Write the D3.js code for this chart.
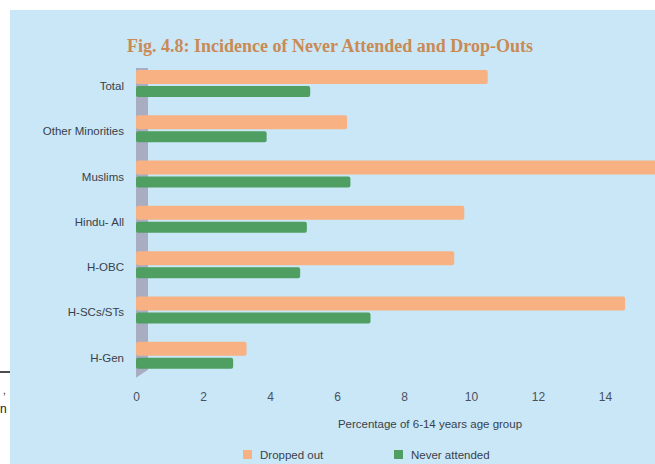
<!DOCTYPE html>
<html><head><meta charset="utf-8">
<script src="https://cdn.jsdelivr.net/npm/d3@7"></script>
<style>html,body{margin:0;padding:0;background:#fff;}svg{display:block;}</style>
</head><body>
<svg id="c" width="655" height="464"></svg>
<script>
const categories = ["Total","Other Minorities","Muslims","Hindu- All","H-OBC","H-SCs/STs","H-Gen"];
const droppedOut = [10.5, 6.3, 15.7, 9.8, 9.5, 14.6, 3.3];
const neverAttended = [5.2, 3.9, 6.4, 5.1, 4.9, 7.0, 2.9];
const xTicks = [0,2,4,6,8,10,12,14];
const seriesNames = ["Dropped out","Never attended"];
const titleText = "Fig. 4.8: Incidence of Never Attended and Drop-Outs";
const axisTitle = "Percentage of 6-14 years age group";

const svg = d3.select("#c");
const orange = "#f8b183", green = "#4f9f62", bg = "#c9e7f7";

// page fragments outside the panel
svg.append("line").attr("x1",0).attr("x2",10).attr("y1",372).attr("y2",372).attr("stroke","#111").attr("stroke-width",1.5);
svg.append("text").attr("x",3).attr("y",394).attr("font-family","Liberation Sans, sans-serif").attr("font-size",10).attr("fill","#222").text(",");
svg.append("text").attr("x",0).attr("y",413).attr("font-family","Liberation Sans, sans-serif").attr("font-size",12).attr("fill","#222").text("n");

// panel
svg.append("rect").attr("x",10).attr("y",10).attr("width",645).attr("height",454).attr("fill",bg);

const x = d3.scaleLinear().domain([0,14]).range([136,605]);
const y = d3.scaleBand().domain(categories).range([68,385]).padding(0);

// title
svg.append("text").attr("x",330).attr("y",52).attr("text-anchor","middle")
  .attr("font-family","Liberation Serif, serif").attr("font-size",18).attr("font-weight","bold").attr("fill","#c98a55")
  .text(titleText);

// gray base wall
svg.append("path")
  .attr("d",`M${x(0)},${y(categories[0])} L${x(0)+12},${y(categories[0])} L${x(0)+12},${y("H-Gen")+30} L${x(0)},${y("H-Gen")+38} Z`)
  .attr("fill","#a9adc2");

const g = svg.append("g");
g.selectAll("rect.d").data(categories).join("rect").attr("class","d")
  .attr("x",x(0)).attr("y",d=>y(d)+2).attr("height",14).attr("rx",2)
  .attr("width",(d,i)=>x(droppedOut[i])-x(0)).attr("fill",orange);
g.selectAll("rect.n").data(categories).join("rect").attr("class","n")
  .attr("x",x(0)).attr("y",d=>y(d)+18).attr("height",11).attr("rx",2)
  .attr("width",(d,i)=>x(neverAttended[i])-x(0)).attr("fill",green);

// category labels
svg.append("g").selectAll("text").data(categories).join("text")
  .attr("x",124).attr("y",d=>y(d)+22).attr("text-anchor","end")
  .attr("font-family","Liberation Sans Narrow, Liberation Sans, sans-serif").attr("font-size",11.5).attr("fill","#3a3f4a")
  .text(d=>d);

// x axis
const xa = svg.append("g").attr("transform","translate(0,397)")
  .call(d3.axisBottom(x).tickValues(xTicks).tickSize(0).tickPadding(0).tickFormat(d3.format("d")));
xa.select(".domain").remove();
xa.selectAll("text").attr("font-family","Liberation Sans Narrow, Liberation Sans, sans-serif").attr("font-size",12).attr("fill","#4a505c").attr("dy","0.35em");

svg.append("text").attr("x",430).attr("y",428).attr("text-anchor","middle")
  .attr("font-family","Liberation Sans Narrow, Liberation Sans, sans-serif").attr("font-size",11.5).attr("fill","#3a3f4a")
  .text(axisTitle);

// legend
const leg = svg.append("g");
const lx = [243, 394], colors=[orange, green];
seriesNames.forEach((s,i)=>{
  leg.append("rect").attr("x",lx[i]).attr("y",450).attr("width",9).attr("height",9).attr("fill",colors[i]);
  leg.append("text").attr("x",lx[i]+17).attr("y",459)
    .attr("font-family","Liberation Sans Narrow, Liberation Sans, sans-serif").attr("font-size",11.5).attr("fill","#3a3f4a").text(s);
});
</script>
</body></html>
